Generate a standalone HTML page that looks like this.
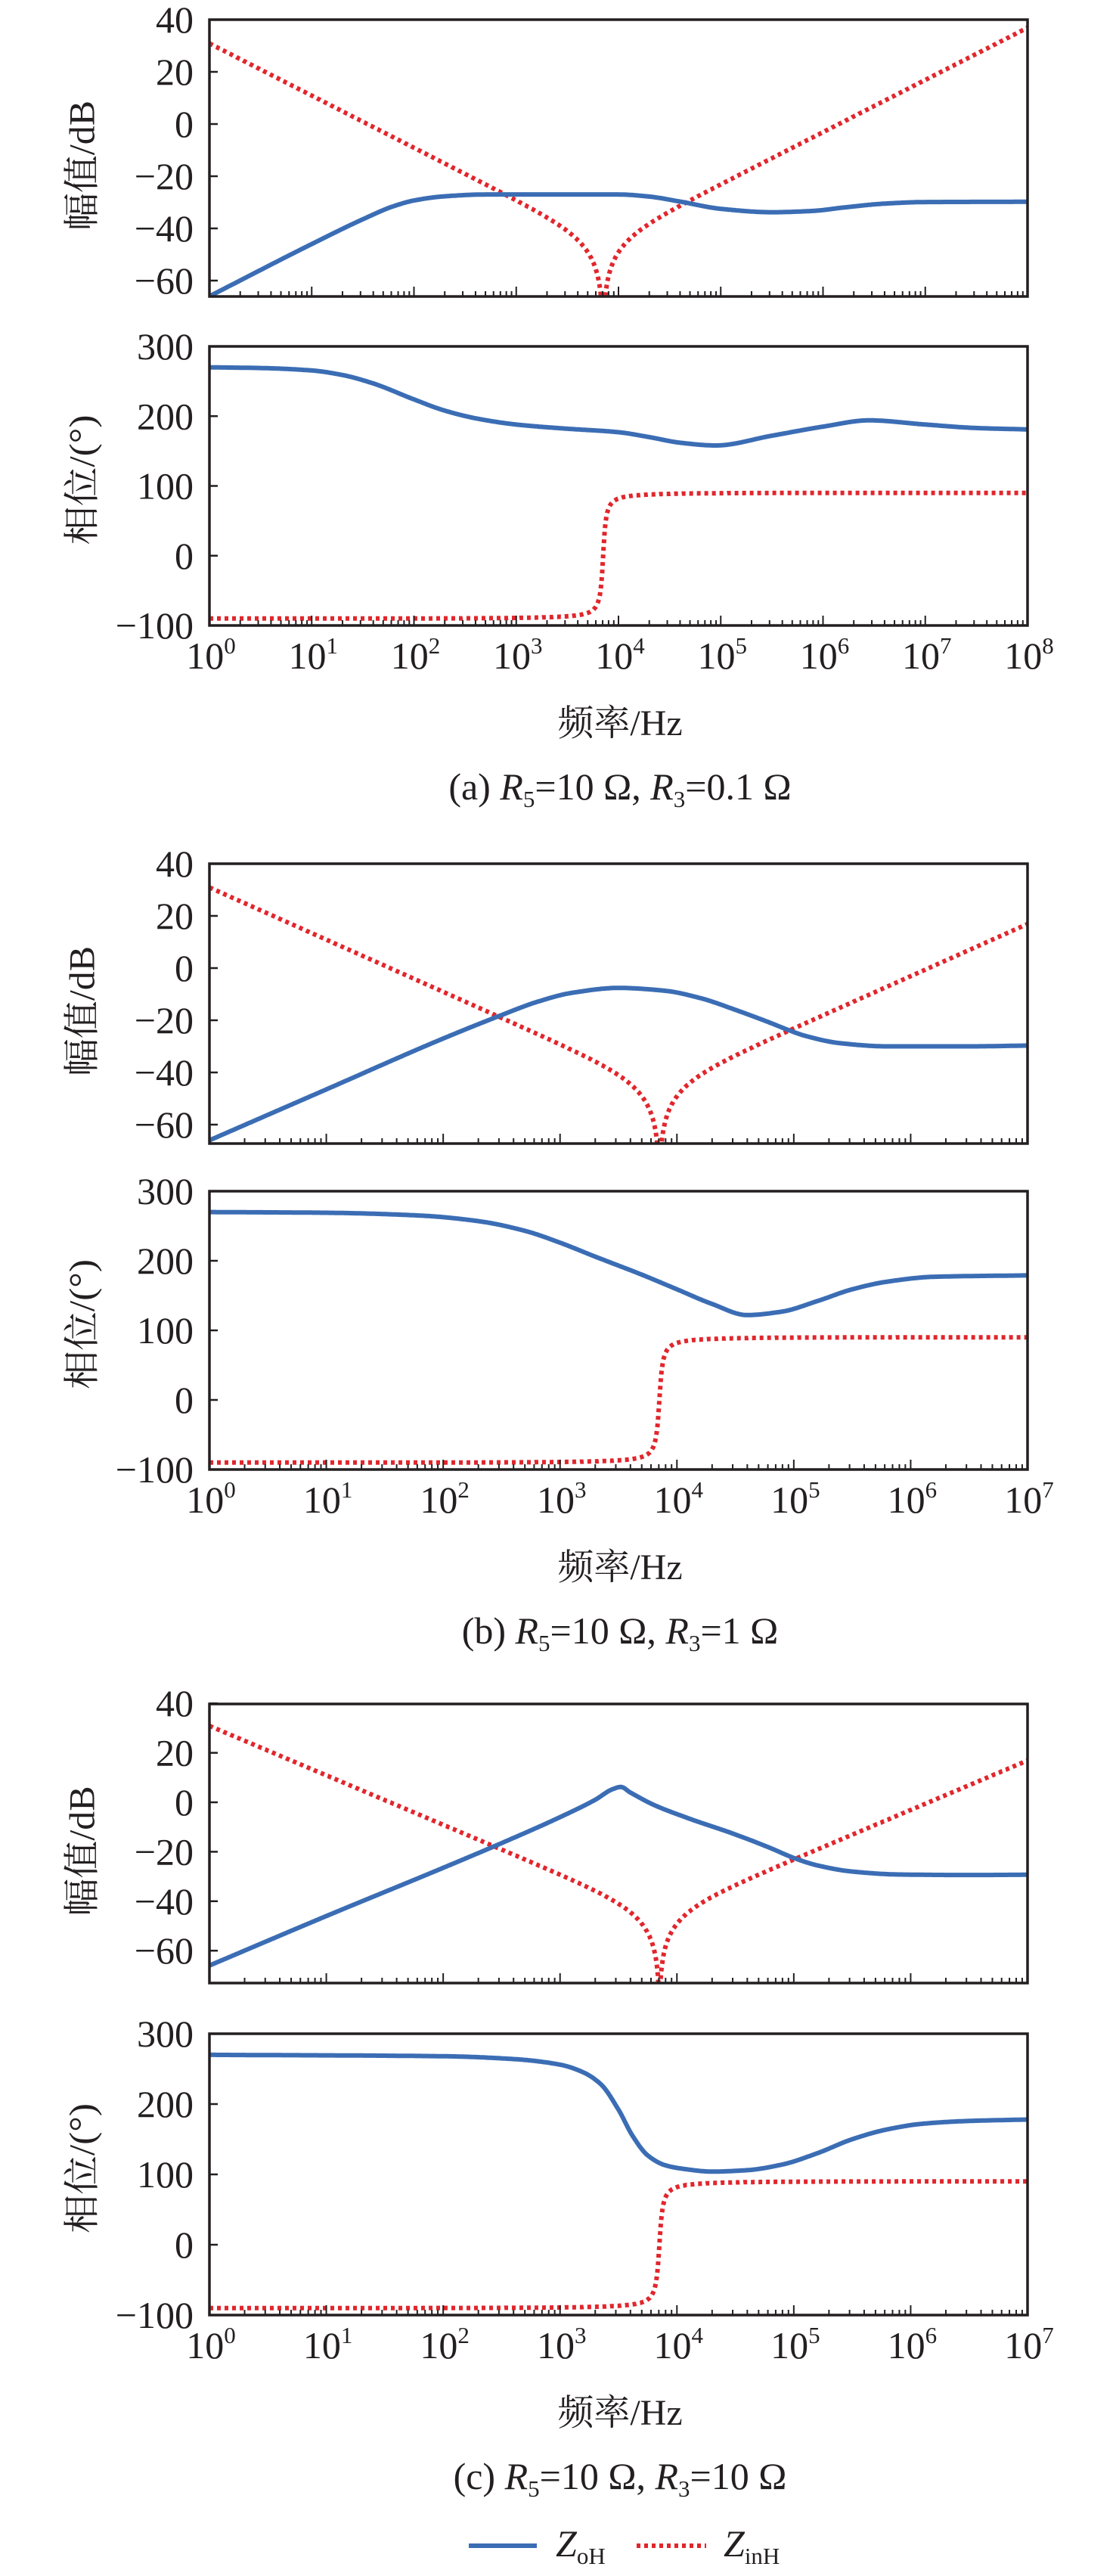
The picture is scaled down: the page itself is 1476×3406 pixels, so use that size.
<!DOCTYPE html>
<html><head><meta charset="utf-8"><style>
html,body{margin:0;padding:0;background:#fff}
svg{display:block}
text{font-family:"Liberation Serif","Noto Serif CJK SC",serif;fill:#231f20}
</style></head><body>
<svg id="s" xmlns="http://www.w3.org/2000/svg" width="1476" height="3406" viewBox="0 0 1476 3406"></svg>
<script>
const S=document.getElementById('s');const NS='http://www.w3.org/2000/svg';
function el(t,a,p){const e=document.createElementNS(NS,t);for(const k in a)e.setAttribute(k,a[k]);(p||S).appendChild(e);return e;}
const XL=277,XR=1359,BLUE='#3b6db4',RED='#e1262c';
let cid=0;
function mono(pts){const n=pts.length,xs=pts.map(p=>p[0]),ys=pts.map(p=>p[1]);
 const d=[],m=[];for(let i=0;i<n-1;i++)d.push((ys[i+1]-ys[i])/(xs[i+1]-xs[i]));
 m[0]=d[0];m[n-1]=d[n-2];
 for(let i=1;i<n-1;i++){if(d[i-1]*d[i]<=0)m[i]=0;else{const w1=2*(xs[i+1]-xs[i])+(xs[i]-xs[i-1]),w2=(xs[i+1]-xs[i])+2*(xs[i]-xs[i-1]);m[i]=(w1+w2)/(w1/d[i-1]+w2/d[i]);}}
 return x=>{let i=0;while(i<n-2&&x>xs[i+1])i++;const h=xs[i+1]-xs[i],t=(x-xs[i])/h;
  const h00=2*t*t*t-3*t*t+1,h10=t*t*t-2*t*t+t,h01=-2*t*t*t+3*t*t,h11=t*t*t-t*t;
  return h00*ys[i]+h10*h*m[i]+h01*ys[i+1]+h11*h*m[i+1];};}
function panel(o){
 const {top,bot,dec,yv,ticks,labels,blue,isMag}=o;
 const xf=l=>XL+(XR-XL)*l/dec;
 cid++;const cp=el('clipPath',{id:'c'+cid});el('rect',{x:XL,y:top,width:XR-XL,height:bot-top},cp);
 const g=el('g',{'clip-path':'url(#c'+cid+')'});
 const f0l=3.85;let rp=[];
 for(let i=0;i<=1600;i++){const l=dec*i/1600;const r=Math.pow(10,l-f0l);const u=r-1/r;let v;
  if(isMag){v=-46.1+10*Math.log10(u*u+0.0004);}else{v=Math.atan(u/0.1)*180/Math.PI;}
  let y=yv(v);y=Math.min(y,bot+20);rp.push(xf(l).toFixed(1)+','+y.toFixed(1));}
 el('path',{d:'M'+rp.join('L'),fill:'none',stroke:RED,'stroke-width':6,'stroke-dasharray':'5 5'},g);
 const f=mono(blue);let bp=[];
 for(let i=0;i<=800;i++){const l=dec*i/800;bp.push(xf(l).toFixed(1)+','+yv(f(l)).toFixed(1));}
 el('path',{d:'M'+bp.join('L'),fill:'none',stroke:BLUE,'stroke-width':6,'stroke-linejoin':'round'},g);
 el('rect',{x:XL,y:top,width:XR-XL,height:bot-top,fill:'none',stroke:'#231f20','stroke-width':3.5});
 ticks.forEach(v=>{const y=yv(v);el('line',{x1:XL,x2:XL+11,y1:y,y2:y,stroke:'#231f20','stroke-width':2.5});
  const t=el('text',{x:256,y:y+17,'font-size':50,'text-anchor':'end'});t.textContent=(v<0?'\u2212':'')+Math.abs(v);});
 for(let d=0;d<dec;d++){for(let k=1;k<10;k++){const x=xf(d+Math.log10(k));const L=k==1?13:7;if(k==1&&d==0)continue;
  el('line',{x1:x,x2:x,y1:bot,y2:bot-L,stroke:'#231f20','stroke-width':2});}}
 if(labels){for(let d=0;d<=dec;d++){const x=xf(d);const t=el('text',{x:x+2,y:bot+57,'font-size':50,'text-anchor':'middle'});
  t.textContent='10';const s=el('tspan',{'font-size':31,dy:-20},t);s.textContent=String(d);}}
}
function ylab(txt,cx,cy){const t=el('text',{x:0,y:0,'font-size':48,'text-anchor':'middle','dominant-baseline':'central',transform:`translate(${cx},${cy}) rotate(-90)`,textLength:172,lengthAdjust:'spacingAndGlyphs'});t.textContent=txt;}
function caption(y,pre,r5,r3){const t=el('text',{x:820,y:y,'font-size':50,'text-anchor':'middle'});
 const a=(s,at)=>{const e=el('tspan',at||{},t);e.textContent=s;return e;};
 a(pre+' ');a('R',{'font-style':'italic'});a('5',{'font-size':31,dy:10});a('=10 \u03a9, ',{dy:-10});a('R',{'font-style':'italic'});a('3',{'font-size':31,dy:10});a('='+r3+' \u03a9',{dy:-10});}
function xlab(y){const t=el('text',{x:820,y:y,'font-size':48,'text-anchor':'middle'});t.textContent='频率/Hz';}

const sets=[
 {mag0:164,m20:69,mt:26,mb:392,pt:458,pb:827,dec:8,
  bm:[[0,-66],[1,-46],[1.5,-36.5],[1.8,-31.5],[2,-29.3],[2.3,-27.7],[2.7,-27],[3.5,-27],[4,-27],[4.3,-27.8],[4.6,-29.7],[5,-32.5],[5.5,-33.8],[5.9,-33.3],[6.2,-32],[6.6,-30.5],[7,-29.9],[8,-29.8]],
  bp:[[0,270],[0.5,269],[1,265.5],[1.3,259],[1.6,247],[2,224],[2.3,208],[2.6,197],[3,188],[3.5,182],[4,177],[4.3,170],[4.6,162],[4.95,158],[5.5,172],[6,185],[6.45,194],[7,188],[7.5,183],[8,181]],
  cap:['(a)','10','0.1']},
 {mag0:1280,m20:69,mt:1142,mb:1512,pt:1575,pb:1943,dec:7,
  bm:[[0,-66],[1,-46.5],[2,-27],[2.5,-18],[2.8,-13],[3.1,-9.5],[3.5,-7.6],[3.9,-8.7],[4.2,-11.5],[4.5,-16],[4.8,-21],[4.94,-23.5],[5.1,-26],[5.4,-28.8],[5.8,-30],[6.5,-30],[7,-29.7]],
  bp:[[0,270],[1,269],[1.8,265],[2.3,257],[2.7,243],[3,226],[3.3,206],[3.7,180],[4,159],[4.3,138],[4.6,122],[4.9,127],[5.2,142],[5.5,159],[5.8,170],[6.2,177],[7,179]],
  cap:['(b)','10','1']},
 {mag0:2383,m20:65.4,mt:2253,mb:2622,pt:2689,pb:3061,dec:7,
  bm:[[0,-66],[1,-46],[2,-26.5],[2.5,-16.5],[3,-6],[3.3,1],[3.45,5.3],[3.52,6.2],[3.6,4],[3.8,-1],[4.1,-6.5],[4.5,-13],[4.8,-18.5],[5.0,-22.5],[5.2,-25.5],[5.5,-28],[5.9,-29.2],[6.5,-29.4],[7,-29.3]],
  bp:[[0,270],[2,268],[2.6,264],[3,256],[3.2,245],[3.35,228],[3.5,192],[3.62,155],[3.75,127],[3.9,113],[4.05,108],[4.3,104],[4.6,106],[4.9,114],[5.2,130],[5.5,150],[5.8,164],[6.1,172],[6.5,176],[7,178]],
  cap:['(c)','10','10']}];
sets.forEach(s=>{
 panel({top:s.mt,bot:s.mb,dec:s.dec,yv:v=>s.mag0-v*s.m20/20,ticks:[40,20,0,-20,-40,-60],labels:false,blue:s.bm,isMag:true});
 const pk=(s.pb-s.pt)/400;
 panel({top:s.pt,bot:s.pb,dec:s.dec,yv:v=>s.pt+(300-v)*pk,ticks:[300,200,100,0,-100],labels:true,blue:s.bp,isMag:false});
 ylab('幅值/dB',109,(s.mt+s.mb)/2+10);
 ylab('相位/(°)',109,(s.pt+s.pb)/2-8);
 xlab(s.pb+145);
 caption(s.pb+230,s.cap[0],s.cap[1],s.cap[2]);
});
el('line',{x1:620,x2:710,y1:3366,y2:3366,stroke:BLUE,'stroke-width':6});
el('line',{x1:842,x2:934,y1:3366,y2:3366,stroke:RED,'stroke-width':6,'stroke-dasharray':'5 5'});
function leg(x,sub){const t=el('text',{x:x,y:3380,'font-size':50});const a=el('tspan',{'font-style':'italic'},t);a.textContent='Z';const b=el('tspan',{'font-size':31,dy:10},t);b.textContent=sub;}
leg(735,'oH');leg(957,'inH');
</script>
</body></html>
